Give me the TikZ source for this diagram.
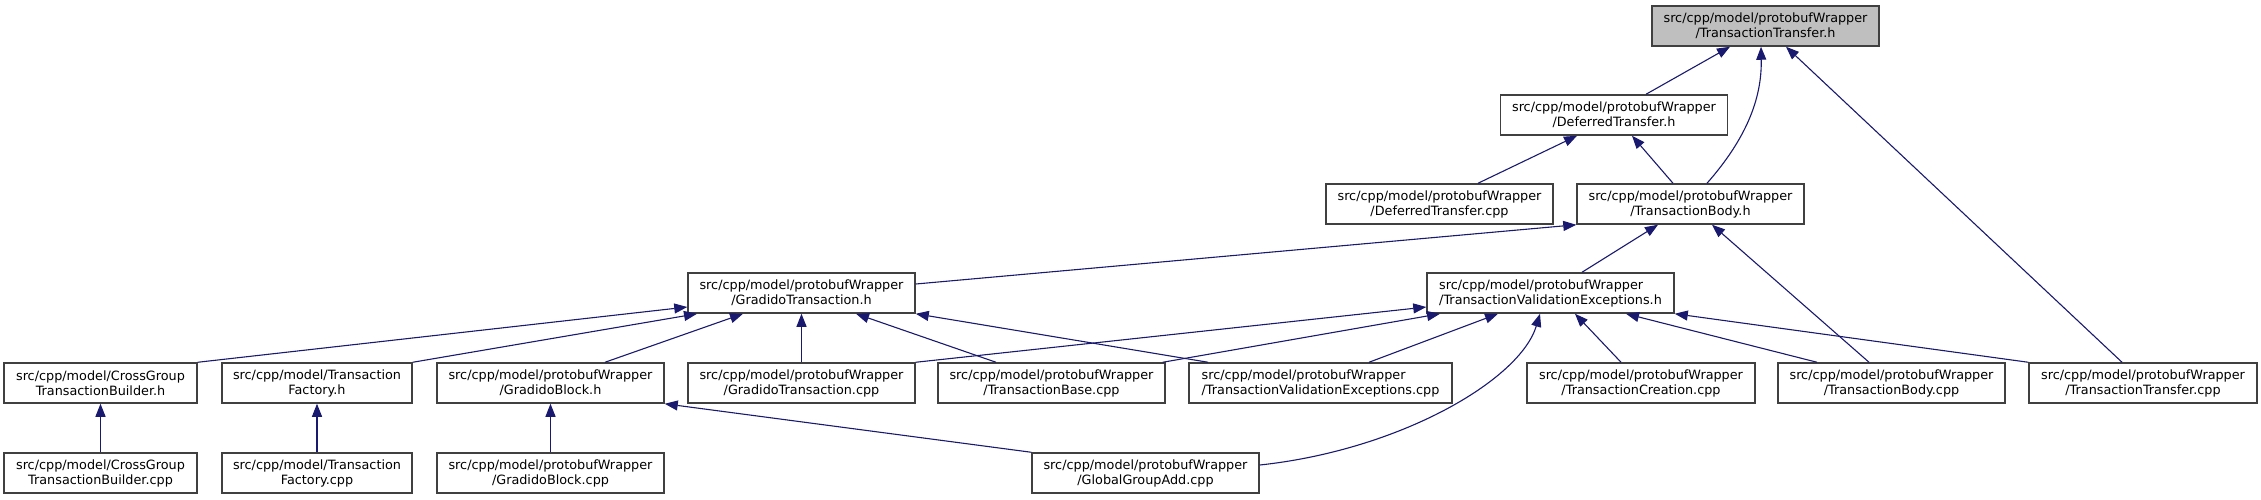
\documentclass[tikz,border=0pt]{standalone}
\usepackage{fontspec}
\setmainfont{DejaVu Sans}
\usetikzlibrary{arrows.meta}
\definecolor{boxline}{HTML}{404040}
\definecolor{boxgray}{HTML}{BFBFBF}
\definecolor{edgeblue}{HTML}{191970}
\tikzset{
  fbox/.style={draw=boxline, line width=1.5pt, fill=white, inner sep=0pt, minimum height=40pt, minimum width=227pt, align=center, font=\fontsize{12.8pt}{15pt}\selectfont},
  fboxl/.style={fbox, align=left},
  edge/.style={draw=edgeblue, line width=1.1pt, -{Triangle[length=13pt,width=10pt]}}
}
\begin{document}
\begin{tikzpicture}[x=1pt,y=-1pt]
\useasboundingbox (0,0) rectangle (2261,499);
% row 1
\node[fbox, fill=boxgray] (TTh) at (1765.5,26) {src/cpp/model/protobufWrapper\\/TransactionTransfer.h};
% row 2
\node[fbox] (DTh) at (1614,115) {src/cpp/model/protobufWrapper\\/DeferredTransfer.h};
% row 3
\node[fbox] (DTcpp) at (1439.5,204) {src/cpp/model/protobufWrapper\\/DeferredTransfer.cpp};
\node[fbox] (TBh) at (1690.5,204) {src/cpp/model/protobufWrapper\\/TransactionBody.h};
% row 4
\node[fbox] (GTh) at (801.5,293) {src/cpp/model/protobufWrapper\\/GradidoTransaction.h};
\node[fboxl, minimum width=247pt] (TVEh) at (1550.5,293) {src/cpp/model/protobufWrapper\\/TransactionValidationExceptions.h};
% row 5
\node[fbox, minimum width=193pt] (CGh) at (100.5,383) {src/cpp/model/CrossGroup\\TransactionBuilder.h};
\node[fbox, minimum width=190pt] (TFh) at (317,383) {src/cpp/model/Transaction\\Factory.h};
\node[fbox] (GBh) at (550.5,383) {src/cpp/model/protobufWrapper\\/GradidoBlock.h};
\node[fbox] (GTcpp) at (801.5,383) {src/cpp/model/protobufWrapper\\/GradidoTransaction.cpp};
\node[fbox] (TBasecpp) at (1051.5,383) {src/cpp/model/protobufWrapper\\/TransactionBase.cpp};
\node[fboxl, minimum width=263pt] (TVEcpp) at (1320.5,383) {src/cpp/model/protobufWrapper\\/TransactionValidationExceptions.cpp};
\node[fbox, minimum width=228pt] (TCcpp) at (1641,383) {src/cpp/model/protobufWrapper\\/TransactionCreation.cpp};
\node[fbox] (TBcpp) at (1891.5,383) {src/cpp/model/protobufWrapper\\/TransactionBody.cpp};
\node[fbox, minimum width=228pt] (TTcpp) at (2143,383) {src/cpp/model/protobufWrapper\\/TransactionTransfer.cpp};
% row 6
\node[fbox, minimum width=193pt] (CGcpp) at (100.5,473) {src/cpp/model/CrossGroup\\TransactionBuilder.cpp};
\node[fbox, minimum width=190pt] (TFcpp) at (317,473) {src/cpp/model/Transaction\\Factory.cpp};
\node[fbox] (GBcpp) at (550.5,473) {src/cpp/model/protobufWrapper\\/GradidoBlock.cpp};
\node[fbox] (GGAcpp) at (1145.5,473) {src/cpp/model/protobufWrapper\\/GlobalGroupAdd.cpp};

% edges
\draw[edge] ([xshift=32pt]DTh.north) -- ([xshift=-35.5pt]TTh.south);
\draw[edge] ([xshift=16.5pt]TBh.north) .. controls (1745,140) and (1762,100) .. ([xshift=-4.5pt]TTh.south);
\draw[edge] ([xshift=-21pt]TTcpp.north) -- ([xshift=20.5pt]TTh.south);
\draw[edge] ([xshift=38.5pt]DTcpp.north) -- ([xshift=-37pt]DTh.south);
\draw[edge] ([xshift=-17.5pt]TBh.north) -- ([xshift=18pt]DTh.south);
\draw[edge] ([yshift=9pt]GTh.east) -- (TBh.south west);
\draw[edge] ([xshift=31.5pt]TVEh.north) -- ([xshift=-32.5pt]TBh.south);
\draw[edge] ([xshift=-22.5pt]TBcpp.north) -- ([xshift=21.5pt]TBh.south);
\draw[edge] (CGh.north east) -- ([yshift=-14pt]GTh.west);
\draw[edge] (TFh.north east) -- ([xshift=-104.5pt]GTh.south);
\draw[edge] ([xshift=54.5pt]GBh.north) -- ([xshift=-58.5pt]GTh.south);
\draw[edge] (GTcpp.north) -- (GTh.south);
\draw[edge] ([xshift=-55.5pt]TBasecpp.north) -- ([xshift=54.5pt]GTh.south);
\draw[edge] ([xshift=-112.5pt]TVEcpp.north) -- (GTh.south east);
\draw[edge] (GTcpp.north east) -- ([yshift=-14pt]TVEh.west);
\draw[edge] ([xshift=-3pt]TBasecpp.north east) -- ([xshift=-110.5pt]TVEh.south);
\draw[edge] ([xshift=48.5pt]TVEcpp.north) -- ([xshift=-52.5pt]TVEh.south);
\draw[edge] ([yshift=8pt]GGAcpp.east) .. controls (1400,450) and (1520,380) .. ([xshift=-10.5pt]TVEh.south);
\draw[edge] ([xshift=-20pt]TCcpp.north) -- ([xshift=24.5pt]TVEh.south);
\draw[edge] ([xshift=-74.5pt]TBcpp.north) -- ([xshift=75.5pt]TVEh.south);
\draw[edge] (TTcpp.north west) -- (TVEh.south east);
\draw[edge] (CGcpp.north) -- (CGh.south);
\draw[edge] (TFcpp.north) -- (TFh.south);
\draw[edge] (GBcpp.north) -- (GBh.south);
\draw[edge] (GGAcpp.north west) -- (GBh.south east);
\end{tikzpicture}
\end{document}
